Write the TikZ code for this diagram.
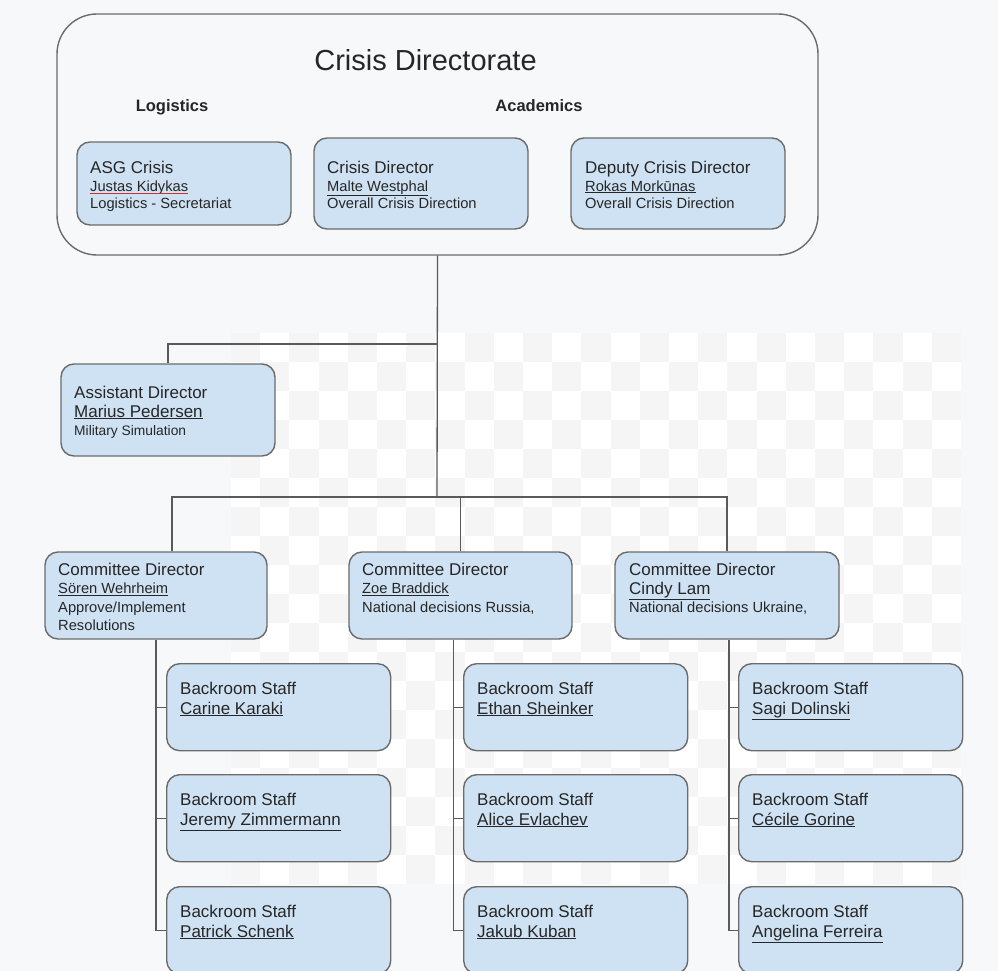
\documentclass[tikz,border=0pt]{standalone}
\usepackage{fontspec}
\setmainfont{Liberation Sans}
\definecolor{bg}{HTML}{F7F8FA}
\definecolor{chk}{HTML}{F5F5F6}
\definecolor{boxfill}{HTML}{CFE2F3}
\definecolor{boxline}{HTML}{6B6B6B}
\definecolor{conn}{HTML}{5A5A5A}
\definecolor{txt}{HTML}{262626}
\definecolor{spell}{HTML}{D03030}
\newcommand{\redul}[1]{\setbox0\hbox{#1}\rlap{\copy0}{\color{spell}\rule[-2.6pt]{\wd0}{0.9pt}}}
\newcommand{\fbig}{\fontsize{17}{20}\selectfont}
\newcommand{\fmid}{\fontsize{14.7}{18}\selectfont}
\newcommand{\fsm}{\fontsize{13.8}{17}\selectfont}
\tikzset{
  card/.style={draw=boxline, line width=1.4pt, fill=boxfill, rounded corners=13pt, inner sep=0pt},
  lbl/.style={anchor=base west, inner sep=0pt, text=txt},
  link/.style={draw=conn, line width=1.3pt},
}
\begin{document}
\begin{tikzpicture}[x=1pt,y=-1pt]
\useasboundingbox (0,0) rectangle (998,971);
\fill[bg] (0,0) rectangle (998,971);
% checkerboard
\foreach \i in {0,...,24}{
  \foreach \j in {0,...,18}{
    \pgfmathtruncatemacro{\cpar}{mod(\i+\j,2)}
    \ifnum\cpar=1
      \fill[white] (231+\i*29.2,333+\j*29.0) rectangle (231+\i*29.2+29.2,333+\j*29.0+29.0);
    \else
      \fill[chk] (231+\i*29.2,333+\j*29.0) rectangle (231+\i*29.2+29.2,333+\j*29.0+29.0);
    \fi
  }
}
% outer directorate box
\node[draw=boxline, line width=1.4pt, fill=bg, rounded corners=40pt, minimum width=761pt, minimum height=241pt, inner sep=0pt] (cd) at (437.5,134.5) {};
\node[anchor=base, inner sep=0pt, text=txt, font=\fontsize{29}{34}\selectfont] (title) at (425.5,71) {Crisis Directorate};
\node[anchor=base, inner sep=0pt, text=txt, font=\fontsize{16.5}{20}\selectfont\bfseries] (logi) at (172,112) {Logistics};
\node[anchor=base, inner sep=0pt, text=txt, font=\fontsize{16.5}{20}\selectfont\bfseries] (acad) at (539,112) {Academics};
% top cards
\node[card, minimum width=214pt, minimum height=83pt] (asg) at (184,183.5) {};
\node[card, minimum width=214pt, minimum height=91pt] (dir) at (421,183.5) {};
\node[card, minimum width=214pt, minimum height=91pt] (dep) at (678,183.5) {};
\node[lbl, font=\fbig] (asg1) at (90,173) {ASG Crisis};
\node[lbl, font=\fmid] (asg2) at (90,191) {\redul{Justas Kidykas}};
\node[lbl, font=\fmid] (asg3) at (90,208.5) {Logistics - Secretariat};
\node[lbl, font=\fbig] (dir1) at (327,173) {Crisis Director};
\node[lbl, font=\fmid] (dir2) at (327,191) {\underline{Malte Westphal}};
\node[lbl, font=\fmid] (dir3) at (327,208.5) {Overall Crisis Direction};
\node[lbl, font=\fbig] (dep1) at (585,173) {Deputy Crisis Director};
\node[lbl, font=\fmid] (dep2) at (585,191) {\underline{Rokas Morkūnas}};
\node[lbl, font=\fmid] (dep3) at (585,208.5) {Overall Crisis Direction};
% assistant director
\node[card, minimum width=214pt, minimum height=92pt] (ad) at (168,410) {};
\node[lbl, font=\fbig] (ad1) at (74,398) {Assistant Director};
\node[lbl, font=\fbig] (ad2) at (74,417) {\underline{Marius Pedersen}};
\node[lbl, font=\fsm] (ad3) at (74,435) {Military Simulation};
% committee directors
\node[card, minimum width=222pt, minimum height=87pt] (cm1) at (156,595.5) {};
\node[card, minimum width=223pt, minimum height=87pt] (cm2) at (460.5,595.5) {};
\node[card, minimum width=224pt, minimum height=87pt] (cm3) at (727,595.5) {};
\node[lbl, font=\fbig] (cm1a) at (58,575) {Committee Director};
\node[lbl, font=\fmid] (cm1b) at (58,593.5) {\underline{Sören Wehrheim}};
\node[lbl, font=\fmid] (cm1c) at (58,612) {Approve/Implement};
\node[lbl, font=\fmid] (cm1d) at (58,630) {Resolutions};
\node[lbl, font=\fbig] (cm2a) at (362,575) {Committee Director};
\node[lbl, font=\fmid] (cm2b) at (362,593.5) {\underline{Zoe Braddick}};
\node[lbl, font=\fmid] (cm2c) at (362,612) {National decisions Russia,};
\node[lbl, font=\fbig] (cm3a) at (629,575) {Committee Director};
\node[lbl, font=\fbig] (cm3b) at (629,594.5) {\underline{Cindy Lam}};
\node[lbl, font=\fmid] (cm3c) at (629,612.5) {National decisions Ukraine,};
% backroom staff cards
\foreach \c/\x in {1/166,2/463,3/738}{
  \foreach \r/\y in {1/663,2/774,3/886}{
    \node[card, minimum width=224pt, minimum height=87pt, anchor=north west] (s\c\r) at (\x,\y) {};
  }
}
\foreach \c/\x/\nA/\nB/\nC in {1/180/Carine Karaki/Jeremy Zimmermann/Patrick Schenk,2/477/Ethan Sheinker/Alice Evlachev/Jakub Kuban,3/752/Sagi Dolinski/Cécile Gorine/Angelina Ferreira}{
  \node[lbl, font=\fbig] (t\c1a) at (\x,694) {Backroom Staff};
  \node[lbl, font=\fbig] (t\c1b) at (\x,714) {\underline{\nA}};
  \node[lbl, font=\fbig] (t\c2a) at (\x,805) {Backroom Staff};
  \node[lbl, font=\fbig] (t\c2b) at (\x,825) {\underline{\nB}};
  \node[lbl, font=\fbig] (t\c3a) at (\x,917) {Backroom Staff};
  \node[lbl, font=\fbig] (t\c3b) at (\x,937) {\underline{\nC}};
}
% connectors
\coordinate (jA) at (437,344);
\coordinate (jB) at (437,497);
\coordinate (b1) at (cm1.south);
\coordinate (b2) at ([xshift=-7pt]cm2.south);
\coordinate (b3) at ([xshift=2pt]cm3.south);
\draw[link] (cd.south) -- (jB);
\draw[link] (jA) -| (ad.north);
\draw[link] ([xshift=16pt]cm1.north) |- (jB) -| (cm3.north);
\draw[link] (cm2.north) -- (cm2.north |- jB);
\foreach \c in {1,2,3}{
  \draw[link] (b\c) |- (s\c3.west);
  \draw[link] (s\c1.west) -- (s\c1.west -| b\c);
  \draw[link] (s\c2.west) -- (s\c2.west -| b\c);
}
\end{tikzpicture}
\end{document}
